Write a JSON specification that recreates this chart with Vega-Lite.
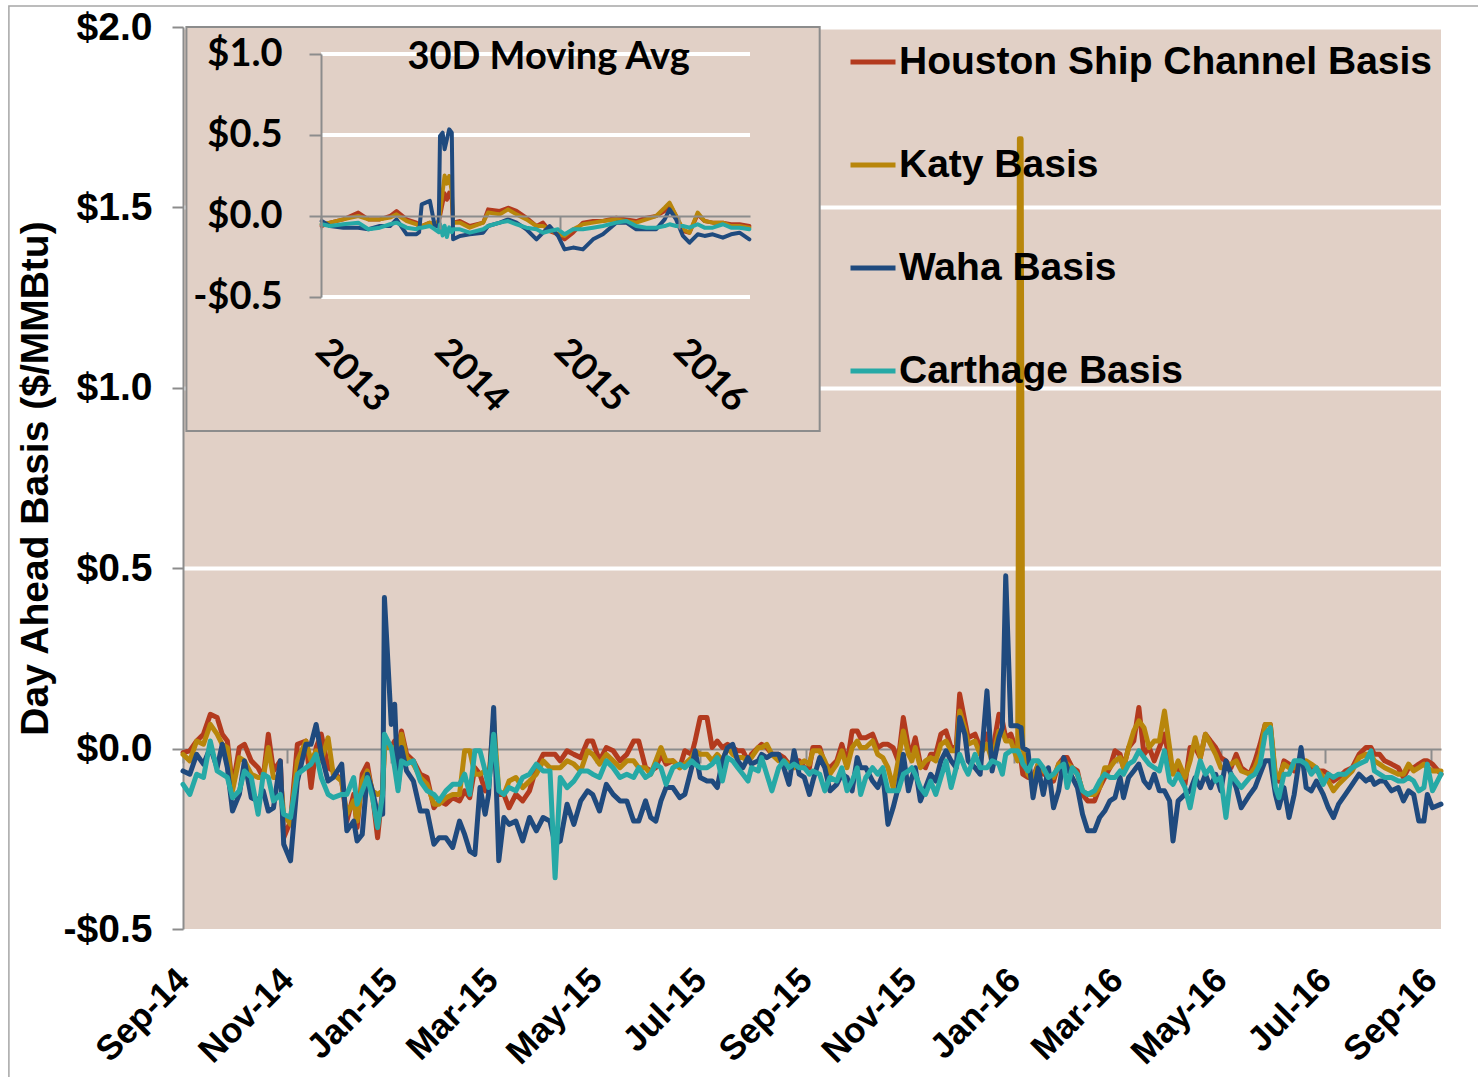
{
"$schema": "https://vega.github.io/schema/vega-lite/v6.json",
"width": 1258, "height": 902,
"autosize": {"type": "none"},
"padding": {"left": 183, "top": 27, "right": 37, "bottom": 148},
"background": "white",
"config": {"view": {"fill": "#E1D0C6", "stroke": null}, "font": "Liberation Sans"},
"datasets": {
"main": [
{"d":"2014/09/01","h":-0.011,"k":-0.016,"w":-0.062,"c":-0.099},
{"d":"2014/09/05","h":-0.006,"k":-0.034,"w":-0.071,"c":-0.127},
{"d":"2014/09/09","h":0.021,"k":0.021,"w":-0.016,"c":-0.071},
{"d":"2014/09/13","h":0.040,"k":0.012,"w":-0.043,"c":-0.080},
{"d":"2014/09/17","h":0.095,"k":0.067,"w":0.003,"c":0.021},
{"d":"2014/09/21","h":0.086,"k":0.040,"w":-0.053,"c":-0.062},
{"d":"2014/09/24","h":0.040,"k":0.012,"w":0.012,"c":-0.071},
{"d":"2014/09/27","h":0.021,"k":0.003,"w":-0.053,"c":-0.080},
{"d":"2014/09/30","h":-0.108,"k":-0.117,"w":-0.173,"c":-0.136},
{"d":"2014/10/04","h":0.003,"k":-0.025,"w":-0.127,"c":-0.117},
{"d":"2014/10/07","h":0.012,"k":-0.034,"w":-0.034,"c":-0.062},
{"d":"2014/10/11","h":-0.034,"k":-0.071,"w":-0.136,"c":-0.080},
{"d":"2014/10/15","h":-0.053,"k":-0.080,"w":-0.145,"c":-0.182},
{"d":"2014/10/18","h":-0.080,"k":-0.080,"w":-0.117,"c":-0.071},
{"d":"2014/10/21","h":0.040,"k":0.003,"w":-0.173,"c":-0.080},
{"d":"2014/10/24","h":-0.062,"k":-0.080,"w":-0.164,"c":-0.145},
{"d":"2014/10/28","h":-0.034,"k":-0.080,"w":-0.034,"c":-0.127},
{"d":"2014/10/30","h":-0.247,"k":-0.182,"w":-0.265,"c":-0.182},
{"d":"2014/11/03","h":-0.201,"k":-0.210,"w":-0.311,"c":-0.191},
{"d":"2014/11/07","h":0.012,"k":-0.034,"w":-0.090,"c":-0.071},
{"d":"2014/11/12","h":0.021,"k":0.021,"w":0.012,"c":-0.053},
{"d":"2014/11/15","h":-0.108,"k":-0.034,"w":0.012,"c":-0.043},
{"d":"2014/11/18","h":0.003,"k":-0.006,"w":0.067,"c":-0.016},
{"d":"2014/11/21","h":0.040,"k":-0.034,"w":-0.016,"c":-0.080},
{"d":"2014/11/25","h":-0.053,"k":0.030,"w":-0.090,"c":-0.127},
{"d":"2014/11/28","h":-0.062,"k":-0.071,"w":-0.080,"c":-0.136},
{"d":"2014/12/03","h":-0.090,"k":-0.090,"w":-0.043,"c":-0.127},
{"d":"2014/12/06","h":-0.201,"k":-0.182,"w":-0.228,"c":-0.127},
{"d":"2014/12/10","h":-0.127,"k":-0.145,"w":-0.201,"c":-0.080},
{"d":"2014/12/12","h":-0.219,"k":-0.201,"w":-0.256,"c":-0.154},
{"d":"2014/12/15","h":-0.071,"k":-0.090,"w":-0.238,"c":-0.117},
{"d":"2014/12/18","h":-0.043,"k":-0.062,"w":-0.071,"c":-0.080},
{"d":"2014/12/21","h":-0.127,"k":-0.117,"w":-0.117,"c":-0.136},
{"d":"2014/12/24","h":-0.247,"k":-0.127,"w":-0.182,"c":-0.219},
{"d":"2014/12/27","h":-0.108,"k":-0.117,"w":-0.182,"c":-0.127},
{"d":"2014/12/28","h":0.003,"k":0.003,"w":0.419,"c":0.040},
{"d":"2015/01/01","h":0.003,"k":0.003,"w":0.067,"c":0.003},
{"d":"2015/01/03","h":0.021,"k":0.003,"w":0.123,"c":-0.053},
{"d":"2015/01/05","h":0.003,"k":-0.034,"w":-0.108,"c":-0.117},
{"d":"2015/01/07","h":0.049,"k":0.040,"w":0.003,"c":-0.034},
{"d":"2015/01/10","h":-0.016,"k":-0.025,"w":-0.062,"c":-0.043},
{"d":"2015/01/14","h":-0.034,"k":-0.043,"w":-0.090,"c":-0.034},
{"d":"2015/01/18","h":-0.071,"k":-0.080,"w":-0.173,"c":-0.090},
{"d":"2015/01/22","h":-0.080,"k":-0.099,"w":-0.173,"c":-0.117},
{"d":"2015/01/26","h":-0.164,"k":-0.154,"w":-0.265,"c":-0.127},
{"d":"2015/01/29","h":-0.145,"k":-0.154,"w":-0.247,"c":-0.145},
{"d":"2015/02/02","h":-0.154,"k":-0.136,"w":-0.247,"c":-0.117},
{"d":"2015/02/06","h":-0.136,"k":-0.127,"w":-0.274,"c":-0.099},
{"d":"2015/02/10","h":-0.145,"k":-0.127,"w":-0.201,"c":-0.099},
{"d":"2015/02/13","h":-0.117,"k":-0.006,"w":-0.238,"c":-0.071},
{"d":"2015/02/16","h":-0.136,"k":-0.006,"w":-0.284,"c":-0.127},
{"d":"2015/02/19","h":-0.053,"k":-0.071,"w":-0.293,"c":-0.006},
{"d":"2015/02/22","h":-0.071,"k":-0.071,"w":-0.108,"c":-0.006},
{"d":"2015/02/25","h":-0.117,"k":-0.062,"w":-0.182,"c":-0.062},
{"d":"2015/02/27","h":-0.090,"k":-0.090,"w":-0.127,"c":-0.108},
{"d":"2015/03/02","h":0.012,"k":0.077,"w":0.114,"c":0.040},
{"d":"2015/03/05","h":-0.127,"k":-0.117,"w":-0.311,"c":-0.117},
{"d":"2015/03/08","h":-0.127,"k":-0.127,"w":-0.191,"c":-0.127},
{"d":"2015/03/11","h":-0.164,"k":-0.090,"w":-0.210,"c":-0.108},
{"d":"2015/03/15","h":-0.127,"k":-0.080,"w":-0.201,"c":-0.117},
{"d":"2015/03/19","h":-0.145,"k":-0.108,"w":-0.256,"c":-0.080},
{"d":"2015/03/23","h":-0.117,"k":-0.090,"w":-0.191,"c":-0.071},
{"d":"2015/03/27","h":-0.053,"k":-0.071,"w":-0.228,"c":-0.043},
{"d":"2015/03/31","h":-0.016,"k":-0.034,"w":-0.191,"c":-0.062},
{"d":"2015/04/04","h":-0.016,"k":-0.053,"w":-0.201,"c":-0.062},
{"d":"2015/04/07","h":-0.016,"k":-0.053,"w":-0.265,"c":-0.358},
{"d":"2015/04/10","h":-0.034,"k":-0.053,"w":-0.256,"c":-0.080},
{"d":"2015/04/14","h":-0.006,"k":-0.034,"w":-0.154,"c":-0.108},
{"d":"2015/04/18","h":-0.016,"k":-0.043,"w":-0.210,"c":-0.090},
{"d":"2015/04/22","h":-0.025,"k":-0.062,"w":-0.145,"c":-0.062},
{"d":"2015/04/26","h":0.021,"k":-0.006,"w":-0.117,"c":-0.062},
{"d":"2015/04/29","h":0.021,"k":-0.016,"w":-0.127,"c":-0.071},
{"d":"2015/05/03","h":-0.034,"k":-0.043,"w":-0.173,"c":-0.080},
{"d":"2015/05/07","h":0.003,"k":-0.016,"w":-0.099,"c":-0.034},
{"d":"2015/05/11","h":-0.006,"k":-0.034,"w":-0.127,"c":-0.053},
{"d":"2015/05/15","h":-0.034,"k":-0.053,"w":-0.145,"c":-0.080},
{"d":"2015/05/19","h":-0.016,"k":-0.034,"w":-0.145,"c":-0.071},
{"d":"2015/05/23","h":0.021,"k":-0.034,"w":-0.201,"c":-0.080},
{"d":"2015/05/26","h":0.021,"k":-0.053,"w":-0.201,"c":-0.053},
{"d":"2015/05/30","h":-0.053,"k":-0.053,"w":-0.145,"c":-0.080},
{"d":"2015/06/02","h":-0.062,"k":-0.071,"w":-0.191,"c":-0.071},
{"d":"2015/06/05","h":-0.053,"k":-0.034,"w":-0.201,"c":-0.043},
{"d":"2015/06/08","h":-0.016,"k":0.003,"w":-0.145,"c":-0.053},
{"d":"2015/06/11","h":-0.043,"k":-0.034,"w":-0.108,"c":-0.099},
{"d":"2015/06/15","h":-0.034,"k":-0.034,"w":-0.108,"c":-0.053},
{"d":"2015/06/19","h":-0.053,"k":-0.053,"w":-0.136,"c":-0.043},
{"d":"2015/06/22","h":-0.006,"k":-0.043,"w":-0.127,"c":-0.053},
{"d":"2015/06/26","h":-0.016,"k":-0.025,"w":-0.053,"c":-0.034},
{"d":"2015/06/28","h":0.021,"k":-0.006,"w":-0.006,"c":-0.043},
{"d":"2015/07/01","h":0.086,"k":-0.016,"w":-0.080,"c":-0.053},
{"d":"2015/07/05","h":0.086,"k":-0.016,"w":-0.090,"c":-0.053},
{"d":"2015/07/08","h":0.003,"k":-0.034,"w":-0.090,"c":-0.043},
{"d":"2015/07/11","h":0.021,"k":-0.016,"w":-0.108,"c":-0.025},
{"d":"2015/07/14","h":0.003,"k":-0.034,"w":-0.034,"c":-0.090},
{"d":"2015/07/17","h":0.012,"k":0.003,"w":0.003,"c":-0.025},
{"d":"2015/07/20","h":0.003,"k":-0.016,"w":0.012,"c":-0.034},
{"d":"2015/07/23","h":-0.006,"k":-0.025,"w":-0.034,"c":-0.053},
{"d":"2015/07/26","h":-0.006,"k":-0.025,"w":-0.053,"c":-0.071},
{"d":"2015/07/29","h":-0.034,"k":-0.034,"w":-0.025,"c":-0.090},
{"d":"2015/07/31","h":-0.016,"k":-0.025,"w":-0.043,"c":-0.053},
{"d":"2015/08/04","h":0.003,"k":0.003,"w":-0.034,"c":-0.062},
{"d":"2015/08/06","h":0.012,"k":0.003,"w":-0.016,"c":-0.025},
{"d":"2015/08/09","h":0.003,"k":0.012,"w":-0.025,"c":-0.071},
{"d":"2015/08/12","h":-0.016,"k":-0.016,"w":-0.016,"c":-0.117},
{"d":"2015/08/16","h":-0.016,"k":-0.034,"w":-0.016,"c":-0.053},
{"d":"2015/08/19","h":-0.025,"k":-0.034,"w":-0.053,"c":-0.034},
{"d":"2015/08/22","h":-0.043,"k":-0.043,"w":-0.099,"c":-0.053},
{"d":"2015/08/25","h":-0.034,"k":-0.053,"w":-0.006,"c":-0.043},
{"d":"2015/08/28","h":-0.034,"k":-0.043,"w":-0.071,"c":-0.053},
{"d":"2015/08/31","h":-0.053,"k":-0.034,"w":-0.080,"c":-0.053},
{"d":"2015/09/03","h":-0.053,"k":-0.043,"w":-0.127,"c":-0.071},
{"d":"2015/09/05","h":0.003,"k":-0.006,"w":-0.090,"c":-0.062},
{"d":"2015/09/09","h":0.003,"k":-0.006,"w":-0.025,"c":-0.071},
{"d":"2015/09/12","h":-0.043,"k":-0.034,"w":-0.053,"c":-0.117},
{"d":"2015/09/15","h":-0.053,"k":-0.071,"w":-0.117,"c":-0.080},
{"d":"2015/09/19","h":-0.034,"k":-0.043,"w":-0.099,"c":-0.090},
{"d":"2015/09/22","h":0.012,"k":-0.006,"w":-0.071,"c":-0.053},
{"d":"2015/09/25","h":-0.043,"k":-0.053,"w":-0.080,"c":-0.117},
{"d":"2015/09/28","h":0.049,"k":0.003,"w":-0.117,"c":-0.090},
{"d":"2015/10/01","h":0.049,"k":0.021,"w":-0.025,"c":-0.053},
{"d":"2015/10/03","h":0.030,"k":0.003,"w":-0.053,"c":-0.127},
{"d":"2015/10/06","h":0.030,"k":0.003,"w":-0.053,"c":-0.080},
{"d":"2015/10/10","h":0.040,"k":0.021,"w":-0.090,"c":-0.053},
{"d":"2015/10/13","h":0.003,"k":-0.016,"w":-0.108,"c":-0.071},
{"d":"2015/10/16","h":0.012,"k":-0.025,"w":-0.071,"c":-0.053},
{"d":"2015/10/19","h":0.012,"k":-0.053,"w":-0.210,"c":-0.117},
{"d":"2015/10/22","h":0.003,"k":-0.108,"w":-0.164,"c":-0.117},
{"d":"2015/10/25","h":-0.034,"k":-0.034,"w":-0.108,"c":-0.117},
{"d":"2015/10/28","h":0.086,"k":0.049,"w":-0.016,"c":-0.071},
{"d":"2015/10/31","h":0.003,"k":-0.016,"w":-0.117,"c":-0.062},
{"d":"2015/11/02","h":-0.006,"k":-0.034,"w":-0.080,"c":-0.053},
{"d":"2015/11/04","h":0.030,"k":0.003,"w":-0.053,"c":-0.071},
{"d":"2015/11/07","h":-0.043,"k":-0.053,"w":-0.145,"c":-0.108},
{"d":"2015/11/10","h":-0.053,"k":-0.034,"w":-0.108,"c":-0.127},
{"d":"2015/11/13","h":-0.016,"k":-0.025,"w":-0.071,"c":-0.090},
{"d":"2015/11/16","h":-0.016,"k":-0.034,"w":-0.090,"c":-0.127},
{"d":"2015/11/19","h":0.040,"k":0.012,"w":-0.034,"c":-0.080},
{"d":"2015/11/22","h":0.049,"k":0.021,"w":-0.006,"c":-0.034},
{"d":"2015/11/25","h":0.003,"k":-0.006,"w":-0.034,"c":-0.108},
{"d":"2015/11/28","h":0.003,"k":-0.006,"w":-0.053,"c":-0.053},
{"d":"2015/11/30","h":0.151,"k":0.104,"w":0.086,"c":-0.016},
{"d":"2015/12/03","h":0.077,"k":0.058,"w":0.040,"c":-0.053},
{"d":"2015/12/05","h":0.030,"k":0.012,"w":-0.034,"c":-0.071},
{"d":"2015/12/09","h":0.040,"k":0.021,"w":-0.053,"c":-0.016},
{"d":"2015/12/12","h":0.003,"k":-0.016,"w":-0.071,"c":-0.053},
{"d":"2015/12/16","h":0.040,"k":0.012,"w":0.160,"c":-0.053},
{"d":"2015/12/19","h":-0.016,"k":-0.034,"w":-0.062,"c":-0.034},
{"d":"2015/12/23","h":0.095,"k":0.049,"w":0.030,"c":-0.043},
{"d":"2015/12/25","h":0.077,"k":0.049,"w":0.058,"c":-0.071},
{"d":"2015/12/27","h":0.030,"k":0.021,"w":0.479,"c":-0.016},
{"d":"2015/12/30","h":0.040,"k":0.021,"w":0.063,"c":-0.006},
{"d":"2016/01/03","h":-0.016,"k":-0.034,"w":0.063,"c":-0.006},
{"d":"2016/01/04","h":-0.025,"k":1.690,"w":0.060,"c":-0.015},
{"d":"2016/01/05","h":-0.034,"k":1.690,"w":0.058,"c":-0.025},
{"d":"2016/01/06","h":-0.071,"k":0.003,"w":0.003,"c":-0.043},
{"d":"2016/01/09","h":-0.080,"k":-0.071,"w":-0.006,"c":-0.062},
{"d":"2016/01/12","h":-0.080,"k":-0.090,"w":-0.136,"c":-0.034},
{"d":"2016/01/15","h":-0.043,"k":-0.043,"w":-0.053,"c":-0.034},
{"d":"2016/01/18","h":-0.071,"k":-0.062,"w":-0.127,"c":-0.053},
{"d":"2016/01/21","h":-0.071,"k":-0.071,"w":-0.053,"c":-0.080},
{"d":"2016/01/24","h":-0.090,"k":-0.080,"w":-0.164,"c":-0.071},
{"d":"2016/01/27","h":-0.043,"k":-0.043,"w":-0.117,"c":-0.053},
{"d":"2016/01/30","h":-0.025,"k":-0.034,"w":-0.025,"c":-0.043},
{"d":"2016/02/01","h":-0.025,"k":-0.043,"w":-0.053,"c":-0.108},
{"d":"2016/02/04","h":-0.053,"k":-0.053,"w":-0.080,"c":-0.053},
{"d":"2016/02/07","h":-0.062,"k":-0.071,"w":-0.108,"c":-0.071},
{"d":"2016/02/10","h":-0.127,"k":-0.117,"w":-0.182,"c":-0.117},
{"d":"2016/02/13","h":-0.145,"k":-0.127,"w":-0.228,"c":-0.127},
{"d":"2016/02/17","h":-0.145,"k":-0.127,"w":-0.228,"c":-0.117},
{"d":"2016/02/20","h":-0.108,"k":-0.108,"w":-0.191,"c":-0.090},
{"d":"2016/02/23","h":-0.080,"k":-0.053,"w":-0.173,"c":-0.071},
{"d":"2016/02/26","h":-0.053,"k":-0.053,"w":-0.145,"c":-0.080},
{"d":"2016/02/29","h":-0.006,"k":-0.034,"w":-0.136,"c":-0.080},
{"d":"2016/03/03","h":-0.016,"k":-0.025,"w":-0.080,"c":-0.062},
{"d":"2016/03/05","h":-0.053,"k":-0.053,"w":-0.136,"c":-0.071},
{"d":"2016/03/08","h":0.003,"k":0.003,"w":-0.080,"c":-0.043},
{"d":"2016/03/11","h":0.021,"k":0.049,"w":-0.062,"c":-0.034},
{"d":"2016/03/14","h":0.114,"k":0.077,"w":-0.043,"c":-0.006},
{"d":"2016/03/17","h":-0.016,"k":0.058,"w":-0.090,"c":-0.025},
{"d":"2016/03/20","h":0.003,"k":0.003,"w":-0.108,"c":-0.043},
{"d":"2016/03/23","h":-0.034,"k":0.021,"w":-0.071,"c":-0.053},
{"d":"2016/03/26","h":0.003,"k":0.021,"w":-0.117,"c":-0.062},
{"d":"2016/03/29","h":0.040,"k":0.104,"w":-0.117,"c":-0.006},
{"d":"2016/04/01","h":-0.034,"k":0.003,"w":-0.145,"c":-0.090},
{"d":"2016/04/03","h":-0.062,"k":-0.071,"w":-0.256,"c":-0.099},
{"d":"2016/04/06","h":-0.053,"k":-0.034,"w":-0.145,"c":-0.071},
{"d":"2016/04/10","h":-0.099,"k":-0.080,"w":-0.127,"c":-0.108},
{"d":"2016/04/13","h":0.003,"k":-0.034,"w":-0.117,"c":-0.164},
{"d":"2016/04/16","h":0.003,"k":0.030,"w":-0.080,"c":-0.090},
{"d":"2016/04/19","h":-0.025,"k":-0.025,"w":-0.108,"c":-0.034},
{"d":"2016/04/22","h":0.040,"k":0.040,"w":-0.071,"c":-0.071},
{"d":"2016/04/25","h":0.021,"k":0.012,"w":-0.108,"c":-0.053},
{"d":"2016/04/28","h":0.003,"k":-0.016,"w":-0.071,"c":-0.090},
{"d":"2016/05/01","h":-0.025,"k":-0.053,"w":-0.117,"c":-0.080},
{"d":"2016/05/04","h":-0.034,"k":-0.053,"w":-0.034,"c":-0.191},
{"d":"2016/05/07","h":-0.053,"k":-0.043,"w":-0.071,"c":-0.071},
{"d":"2016/05/10","h":-0.016,"k":-0.034,"w":-0.108,"c":-0.090},
{"d":"2016/05/13","h":-0.053,"k":-0.062,"w":-0.164,"c":-0.108},
{"d":"2016/05/18","h":-0.071,"k":-0.071,"w":-0.127,"c":-0.080},
{"d":"2016/05/21","h":-0.034,"k":-0.053,"w":-0.108,"c":-0.071},
{"d":"2016/05/24","h":0.012,"k":-0.016,"w":-0.071,"c":-0.043},
{"d":"2016/05/27","h":0.067,"k":0.067,"w":-0.034,"c":0.040},
{"d":"2016/05/30","h":0.067,"k":0.067,"w":-0.034,"c":0.058},
{"d":"2016/06/02","h":-0.080,"k":-0.071,"w":-0.127,"c":-0.108},
{"d":"2016/06/04","h":-0.090,"k":-0.080,"w":-0.164,"c":-0.136},
{"d":"2016/06/07","h":-0.034,"k":-0.043,"w":-0.108,"c":-0.071},
{"d":"2016/06/10","h":-0.043,"k":-0.053,"w":-0.191,"c":-0.071},
{"d":"2016/06/13","h":-0.062,"k":-0.053,"w":-0.127,"c":-0.034},
{"d":"2016/06/17","h":-0.034,"k":-0.034,"w":0.003,"c":-0.034},
{"d":"2016/06/20","h":-0.053,"k":-0.034,"w":-0.108,"c":-0.043},
{"d":"2016/06/23","h":-0.053,"k":-0.043,"w":-0.117,"c":-0.071},
{"d":"2016/06/26","h":-0.062,"k":-0.053,"w":-0.090,"c":-0.053},
{"d":"2016/06/30","h":-0.062,"k":-0.080,"w":-0.127,"c":-0.099},
{"d":"2016/07/03","h":-0.071,"k":-0.090,"w":-0.164,"c":-0.071},
{"d":"2016/07/06","h":-0.090,"k":-0.117,"w":-0.191,"c":-0.080},
{"d":"2016/07/09","h":-0.080,"k":-0.099,"w":-0.154,"c":-0.071},
{"d":"2016/07/13","h":-0.062,"k":-0.080,"w":-0.127,"c":-0.071},
{"d":"2016/07/17","h":-0.053,"k":-0.062,"w":-0.099,"c":-0.053},
{"d":"2016/07/21","h":-0.016,"k":-0.025,"w":-0.071,"c":-0.043},
{"d":"2016/07/25","h":0.003,"k":-0.016,"w":-0.090,"c":-0.034},
{"d":"2016/07/28","h":0.003,"k":-0.016,"w":-0.080,"c":-0.006},
{"d":"2016/07/30","h":-0.016,"k":-0.034,"w":-0.099,"c":-0.062},
{"d":"2016/08/02","h":-0.016,"k":-0.043,"w":-0.090,"c":-0.071},
{"d":"2016/08/05","h":-0.034,"k":-0.053,"w":-0.090,"c":-0.080},
{"d":"2016/08/09","h":-0.043,"k":-0.062,"w":-0.117,"c":-0.080},
{"d":"2016/08/13","h":-0.053,"k":-0.071,"w":-0.108,"c":-0.090},
{"d":"2016/08/16","h":-0.080,"k":-0.071,"w":-0.145,"c":-0.090},
{"d":"2016/08/19","h":-0.053,"k":-0.043,"w":-0.117,"c":-0.080},
{"d":"2016/08/22","h":-0.053,"k":-0.062,"w":-0.127,"c":-0.090},
{"d":"2016/08/25","h":-0.043,"k":-0.053,"w":-0.201,"c":-0.117},
{"d":"2016/08/28","h":-0.034,"k":-0.043,"w":-0.201,"c":-0.108},
{"d":"2016/08/30","h":-0.034,"k":-0.053,"w":-0.127,"c":-0.043},
{"d":"2016/09/02","h":-0.043,"k":-0.062,"w":-0.164,"c":-0.117},
{"d":"2016/09/07","h":-0.071,"k":-0.062,"w":-0.154,"c":-0.071}
],
"inset": [
{"d":"2013/01/03","h":-0.062,"k":-0.051,"w":-0.031,"c":-0.051},
{"d":"2013/01/28","h":-0.041,"k":-0.041,"w":-0.062,"c":-0.062},
{"d":"2013/03/10","h":-0.021,"k":-0.021,"w":-0.072,"c":-0.051},
{"d":"2013/04/25","h":0.021,"k":0.000,"w":-0.072,"c":-0.041},
{"d":"2013/05/26","h":-0.021,"k":-0.021,"w":-0.082,"c":-0.082},
{"d":"2013/06/30","h":-0.021,"k":-0.021,"w":-0.062,"c":-0.072},
{"d":"2013/07/31","h":0.000,"k":-0.010,"w":-0.062,"c":-0.051},
{"d":"2013/08/20","h":0.031,"k":0.010,"w":-0.021,"c":-0.041},
{"d":"2013/09/20","h":-0.021,"k":-0.031,"w":-0.113,"c":-0.072},
{"d":"2013/10/20","h":-0.041,"k":-0.051,"w":-0.113,"c":-0.082},
{"d":"2013/10/28","h":-0.062,"k":-0.062,"w":-0.100,"c":-0.072},
{"d":"2013/11/05","h":-0.062,"k":-0.062,"w":0.072,"c":-0.072},
{"d":"2013/11/30","h":-0.041,"k":-0.041,"w":0.093,"c":-0.062},
{"d":"2013/12/15","h":-0.062,"k":-0.062,"w":-0.062,"c":-0.082},
{"d":"2013/12/27","h":-0.030,"k":-0.030,"w":-0.062,"c":-0.100},
{"d":"2013/12/31","h":0.000,"k":0.020,"w":0.494,"c":-0.051},
{"d":"2014/01/08","h":0.080,"k":0.150,"w":0.514,"c":-0.120},
{"d":"2014/01/14","h":0.140,"k":0.250,"w":0.412,"c":-0.060},
{"d":"2014/01/21","h":0.100,"k":0.200,"w":0.473,"c":-0.130},
{"d":"2014/01/28","h":0.144,"k":0.247,"w":0.535,"c":-0.070},
{"d":"2014/02/05","h":0.100,"k":0.150,"w":0.514,"c":-0.100},
{"d":"2014/02/09","h":-0.041,"k":-0.041,"w":-0.144,"c":-0.082},
{"d":"2014/03/02","h":-0.031,"k":-0.041,"w":-0.123,"c":-0.082},
{"d":"2014/04/01","h":-0.062,"k":-0.072,"w":-0.113,"c":-0.103},
{"d":"2014/05/12","h":-0.041,"k":-0.041,"w":-0.103,"c":-0.082},
{"d":"2014/05/27","h":0.041,"k":0.021,"w":-0.062,"c":-0.062},
{"d":"2014/07/02","h":0.031,"k":0.010,"w":-0.041,"c":-0.041},
{"d":"2014/07/27","h":0.051,"k":0.041,"w":-0.021,"c":-0.031},
{"d":"2014/08/22","h":0.031,"k":0.010,"w":-0.041,"c":-0.051},
{"d":"2014/09/21","h":-0.010,"k":-0.021,"w":-0.082,"c":-0.072},
{"d":"2014/10/22","h":-0.062,"k":-0.062,"w":-0.144,"c":-0.082},
{"d":"2014/11/11","h":-0.041,"k":-0.062,"w":-0.103,"c":-0.103},
{"d":"2014/12/01","h":-0.093,"k":-0.082,"w":-0.062,"c":-0.093},
{"d":"2014/12/27","h":-0.113,"k":-0.113,"w":-0.123,"c":-0.082},
{"d":"2015/01/16","h":-0.144,"k":-0.123,"w":-0.206,"c":-0.113},
{"d":"2015/02/11","h":-0.103,"k":-0.082,"w":-0.195,"c":-0.082},
{"d":"2015/03/13","h":-0.041,"k":-0.051,"w":-0.206,"c":-0.082},
{"d":"2015/04/13","h":-0.031,"k":-0.041,"w":-0.144,"c":-0.072},
{"d":"2015/05/13","h":-0.031,"k":-0.031,"w":-0.113,"c":-0.062},
{"d":"2015/06/23","h":-0.010,"k":-0.021,"w":-0.041,"c":-0.041},
{"d":"2015/07/24","h":-0.021,"k":-0.031,"w":-0.041,"c":-0.031},
{"d":"2015/08/23","h":-0.031,"k":-0.041,"w":-0.082,"c":-0.062},
{"d":"2015/09/23","h":-0.010,"k":-0.021,"w":-0.082,"c":-0.072},
{"d":"2015/10/23","h":0.000,"k":0.000,"w":-0.082,"c":-0.072},
{"d":"2015/11/18","h":0.031,"k":0.051,"w":-0.021,"c":-0.062},
{"d":"2015/12/03","h":0.072,"k":0.082,"w":0.041,"c":-0.051},
{"d":"2015/12/23","h":0.000,"k":0.000,"w":-0.021,"c":-0.062},
{"d":"2016/01/13","h":-0.093,"k":-0.082,"w":-0.123,"c":-0.062},
{"d":"2016/02/02","h":-0.103,"k":-0.103,"w":-0.165,"c":-0.072},
{"d":"2016/02/27","h":0.010,"k":0.021,"w":-0.113,"c":-0.051},
{"d":"2016/03/19","h":-0.031,"k":-0.031,"w":-0.123,"c":-0.072},
{"d":"2016/04/13","h":-0.041,"k":-0.041,"w":-0.113,"c":-0.072},
{"d":"2016/05/14","h":-0.041,"k":-0.041,"w":-0.134,"c":-0.051},
{"d":"2016/06/08","h":-0.051,"k":-0.062,"w":-0.113,"c":-0.072},
{"d":"2016/07/04","h":-0.051,"k":-0.062,"w":-0.103,"c":-0.072},
{"d":"2016/08/03","h":-0.062,"k":-0.072,"w":-0.144,"c":-0.082}
],
"igrid": [{"v": 1.0}, {"v": 0.5}, {"v": -0.5}],
"ititle": [{"t": "30D Moving Avg"}]
},
"layer": [
{
"layer": [
{
"data": {"values": [{}]},
"mark": {"type": "rect", "fill": "transparent", "stroke": "#A6A6A6", "strokeWidth": 1.5},
"encoding": {
"x": {"datum": {"year": 2014, "month": 5, "date": 22}, "type": "temporal", "scale": {"domain": [{"year": 2014, "month": 9, "date": 1}, {"year": 2016, "month": 9, "date": 7}]}},
"x2": {"datum": {"year": 2017, "month": 3, "date": 1}},
"y": {"datum": 2.058, "type": "quantitative", "scale": {"domain": [-0.5, 2.0], "nice": false, "zero": false}},
"y2": {"datum": -1.0}
}
},
{
"data": {"name": "main"},
"transform": [{"fold": ["h", "k", "w", "c"], "as": ["key", "v"]}],
"mark": {"type": "line", "strokeWidth": 5, "strokeJoin": "round", "strokeCap": "round"},
"encoding": {
"x": {"field": "d", "type": "temporal", "title": null,
"scale": {"domain": [{"year": 2014, "month": 9, "date": 1}, {"year": 2016, "month": 9, "date": 7}]},
"axis": {"orient": "bottom", "offset": -180, "format": "%b-%y", "tickCount": {"interval": "month", "step": 2},
"labelAngle": -45, "labelBaseline": "middle", "labelAlign": "right", "labelFont": "Liberation Sans", "labelFontWeight": "bold", "labelFontSize": 35, "labelColor": "black",
"labelPadding": 211, "labelOverlap": false, "labelFlush": false, "domainColor": "#8C8C8C", "domainWidth": 2,
"tickColor": "#8C8C8C", "tickWidth": 2, "tickSize": 14, "grid": false, "title": null, "zindex": 0}},
"y": {"field": "v", "type": "quantitative",
"scale": {"domain": [-0.5, 2.0], "nice": false, "zero": false},
"axis": {"values": [-0.5, 0, 0.5, 1, 1.5, 2],
"labelExpr": "(datum.value < 0 ? '-' : '') + '$' + format(abs(datum.value), '.1f')",
"labelFont": "Liberation Sans", "labelFontWeight": "bold", "labelFontSize": 39, "labelColor": "black", "labelPadding": 20,
"tickSize": 11, "tickColor": "#8C8C8C", "tickWidth": 2, "domainColor": "#8C8C8C", "domainWidth": 2,
"grid": true, "gridColor": "white", "gridWidth": 4,
"gridOpacity": {"condition": {"test": "datum.value <= 0", "value": 0}, "value": 1},
"title": "Day Ahead Basis ($/MMBtu)", "titleFont": "Liberation Sans", "titleFontSize": 39, "titleFontWeight": "bold",
"titleColor": "black", "titlePadding": 8, "zindex": 0}},
"color": {"field": "key", "type": "nominal",
"scale": {"domain": ["h", "k", "w", "c"], "range": ["#B33A1E", "#B8860B", "#1F4A7E", "#26A9A6"]},
"legend": {"orient": "none", "legendX": 665, "legendY": 10, "direction": "vertical", "title": null,
"symbolType": "stroke", "symbolSize": 2025, "symbolStrokeWidth": 5,
"labelFont": "Liberation Sans", "labelFontWeight": "bold", "labelFontSize": 39, "labelColor": "black",
"labelOffset": 1, "rowPadding": 58, "labelLimit": 0,
"labelExpr": "{'h': 'Houston Ship Channel Basis', 'k': 'Katy Basis', 'w': 'Waha Basis', 'c': 'Carthage Basis'}[datum.label]"}}
}
},
{
"data": {"values": [{}]},
"mark": {"type": "rect", "fill": "#E1D0C6", "stroke": "#8C8C8C", "strokeWidth": 2},
"encoding": {
"x": {"datum": {"year": 2014, "month": 9, "date": 3}, "type": "temporal", "scale": {"domain": [{"year": 2014, "month": 9, "date": 1}, {"year": 2016, "month": 9, "date": 7}]}},
"x2": {"datum": {"year": 2015, "month": 9, "date": 9}},
"y": {"datum": 2.0, "type": "quantitative", "scale": {"domain": [-0.5, 2.0], "nice": false, "zero": false}},
"y2": {"datum": 0.88}
}
}
]
},
{
"layer": [
{
"data": {"name": "igrid"},
"mark": {"type": "rule", "color": "white", "strokeWidth": 4},
"encoding": {
"x": {"datum": {"year": 2013, "month": 1, "date": 1}, "type": "temporal",
"scale": {"domain": [{"year": 2013, "month": 1, "date": 1}, {"year": 2016, "month": 8, "date": 5}], "range": [138, 567]},
"axis": {"orient": "bottom", "offset": -713, "format": "%Y", "tickCount": {"interval": "year", "step": 1},
"labelAngle": 45, "labelBaseline": "middle", "labelAlign": "left", "labelFont": "Lato", "labelFontWeight": "bold", "labelFontSize": 37, "labelColor": "black",
"labelPadding": 116, "labelOverlap": false, "labelFlush": false, "domainColor": "#8C8C8C", "domainWidth": 2,
"tickColor": "#8C8C8C", "tickWidth": 2, "tickSize": 13, "grid": false, "title": null, "zindex": 1}},
"x2": {"datum": {"year": 2016, "month": 8, "date": 5}},
"y": {"field": "v", "type": "quantitative",
"scale": {"domain": [-0.5, 1.0], "range": [270, 27], "nice": false, "zero": false},
"axis": {"orient": "left", "offset": -138, "values": [-0.5, 0, 0.5, 1],
"labelExpr": "(datum.value < 0 ? '-' : '') + '$' + format(abs(datum.value), '.1f')",
"labelFont": "Lato", "labelFontWeight": "bold", "labelFontSize": 38, "labelColor": "black", "labelPadding": 27,
"tickSize": 12, "tickColor": "#8C8C8C", "tickWidth": 2, "domainColor": "#8C8C8C", "domainWidth": 2,
"grid": false, "title": null, "zindex": 1}}
}
},
{
"data": {"name": "inset"},
"transform": [{"fold": ["h", "k", "w", "c"], "as": ["key", "v"]}],
"mark": {"type": "line", "strokeWidth": 4, "strokeJoin": "round", "strokeCap": "round"},
"encoding": {
"x": {"field": "d", "type": "temporal",
"scale": {"domain": [{"year": 2013, "month": 1, "date": 1}, {"year": 2016, "month": 8, "date": 5}], "range": [138, 567]}},
"y": {"field": "v", "type": "quantitative",
"scale": {"domain": [-0.5, 1.0], "range": [270, 27], "nice": false, "zero": false}},
"color": {"field": "key", "type": "nominal"}
}
},
{
"data": {"name": "ititle"},
"mark": {"type": "text", "font": "Lato", "fontSize": 38, "fontWeight": "bold", "align": "center", "baseline": "middle", "color": "black"},
"encoding": {
"x": {"datum": {"year": 2014, "month": 11, "date": 28}, "type": "temporal",
"scale": {"domain": [{"year": 2013, "month": 1, "date": 1}, {"year": 2016, "month": 8, "date": 5}], "range": [138, 567]}},
"y": {"datum": 0.975, "type": "quantitative",
"scale": {"domain": [-0.5, 1.0], "range": [270, 27], "nice": false, "zero": false}},
"text": {"field": "t"}
}
}
]
}
],
"resolve": {"scale": {"x": "independent", "y": "independent"}, "axis": {"x": "independent", "y": "independent"}}
}
